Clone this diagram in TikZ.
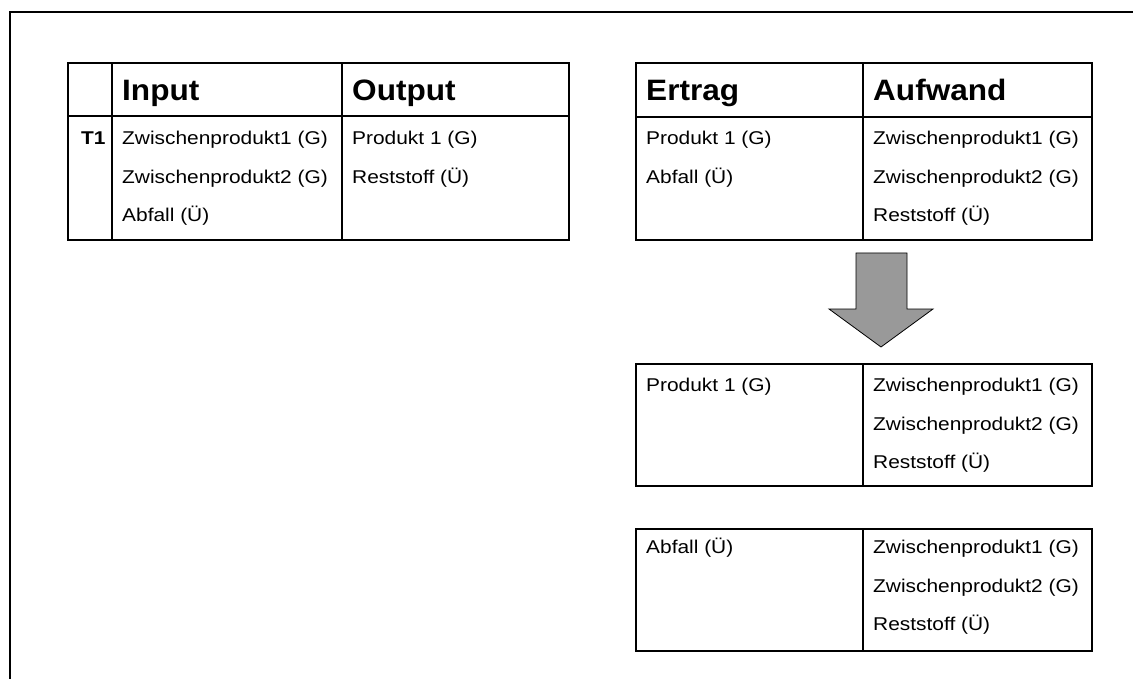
\documentclass[tikz,border=0pt]{standalone}
\usepackage{fontspec}
\setmainfont{Liberation Sans}
\newfontfamily\bodyfont[FakeStretch=1.13]{Liberation Sans}
\newfontfamily\headfont[FakeStretch=1.07]{Liberation Sans}
\definecolor{arrowgray}{HTML}{999999}
\tikzset{
  frameline/.style={line width=2pt, draw=black},
  outerline/.style={line width=2.4pt, draw=black},
  innerline/.style={line width=1.8pt, draw=black},
  txt/.style={anchor=base west, inner sep=0pt, font=\bodyfont\fontsize{18.5}{20}\selectfont},
  btxt/.style={anchor=base west, inner sep=0pt, font=\bodyfont\bfseries\fontsize{18.5}{20}\selectfont},
  hd/.style={anchor=base west, inner sep=0pt, font=\headfont\bfseries\fontsize{29.5}{32}\selectfont},
  bigarrow/.style={draw=black, line width=0.8pt, fill=arrowgray, line join=miter}
}
\begin{document}
\begin{tikzpicture}[x=1pt,y=-1pt]
\useasboundingbox (0,0) rectangle (1133,679);
% outer frame (cut at right and bottom)
\draw[frameline] (10,679) -- (10,12) -- (1133,12);

% ---------- Table 1: Input / Output ----------
\draw[outerline] (68,63) rectangle (569,240);
\draw[innerline] (68,116) -- (569,116);
\draw[innerline] (112,63) -- (112,240);
\draw[innerline] (342,63) -- (342,240);
\node[hd] (t1in) at (122,101) {Input};
\node[hd] (t1out) at (352,101) {Output};
\node[btxt] (t1lab) at (81,145) {T1};
\node[txt] (t1a) at (122,145) {Zwischenprodukt1 (G)};
\node[txt] (t1b) at (122,184) {Zwischenprodukt2 (G)};
\node[txt] (t1c) at (122,222) {Abfall (Ü)};
\node[txt] (t1d) at (352,145) {Produkt 1 (G)};
\node[txt] (t1e) at (352,184) {Reststoff (Ü)};

% ---------- Table 2: Ertrag / Aufwand ----------
\draw[outerline] (636,63) rectangle (1092,240);
\draw[innerline] (636,117) -- (1092,117);
\draw[innerline] (863,63) -- (863,240);
\node[hd] (t2er) at (646,101) {Ertrag};
\node[hd] (t2au) at (873,101) {Aufwand};
\node[txt] (t2a) at (646,145) {Produkt 1 (G)};
\node[txt] (t2b) at (646,184) {Abfall (Ü)};
\node[txt] (t2c) at (873,145) {Zwischenprodukt1 (G)};
\node[txt] (t2d) at (873,184) {Zwischenprodukt2 (G)};
\node[txt] (t2e) at (873,222) {Reststoff (Ü)};

% ---------- Arrow ----------
\draw[bigarrow] (856,253) -- (907,253) -- (907,309) -- (933,309) -- (881,347)
  -- (829,309) -- (856,309) -- cycle;

% ---------- Table 3 ----------
\draw[outerline] (636,364) rectangle (1092,486);
\draw[innerline] (863,364) -- (863,486);
\node[txt] (t3a) at (646,391) {Produkt 1 (G)};
\node[txt] (t3b) at (873,391) {Zwischenprodukt1 (G)};
\node[txt] (t3c) at (873,430) {Zwischenprodukt2 (G)};
\node[txt] (t3d) at (873,468) {Reststoff (Ü)};

% ---------- Table 4 ----------
\draw[outerline] (636,529) rectangle (1092,651);
\draw[innerline] (863,529) -- (863,651);
\node[txt] (t4a) at (646,553) {Abfall (Ü)};
\node[txt] (t4b) at (873,553) {Zwischenprodukt1 (G)};
\node[txt] (t4c) at (873,592) {Zwischenprodukt2 (G)};
\node[txt] (t4d) at (873,630) {Reststoff (Ü)};
\end{tikzpicture}
\end{document}
